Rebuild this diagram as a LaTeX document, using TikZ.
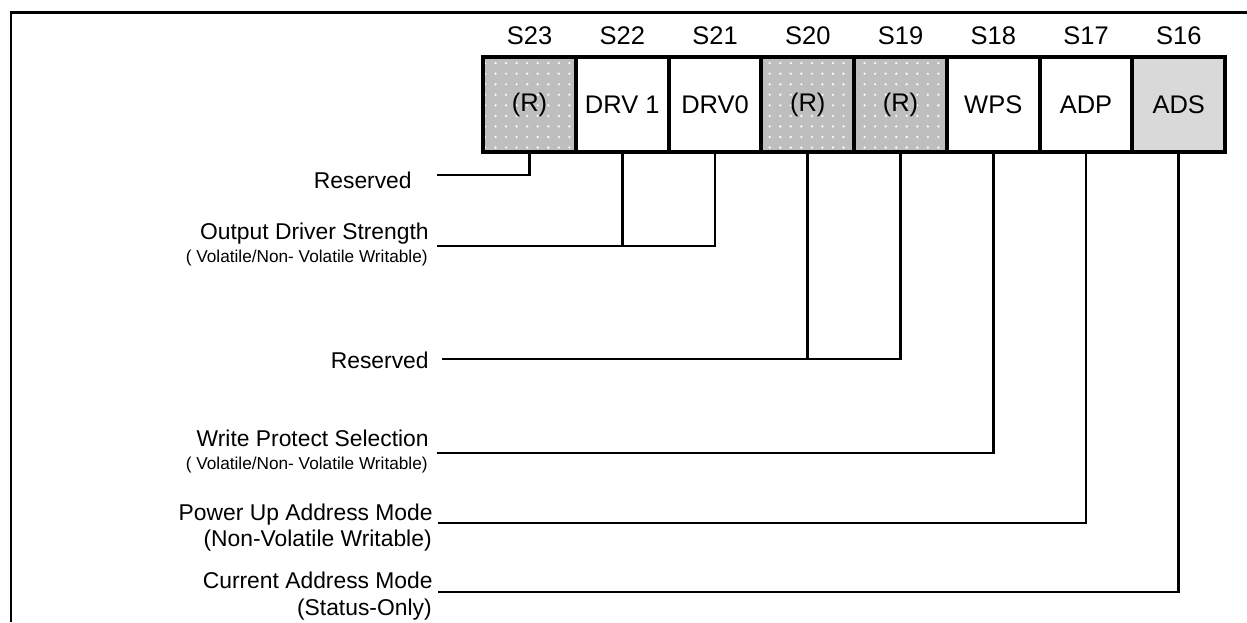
\documentclass[tikz,border=0pt]{standalone}
\usepackage{fontspec}
\setmainfont{Liberation Sans}
\usepackage{xcolor}
\usepackage{tikz}
\usetikzlibrary{positioning,patterns.meta}
\definecolor{rsvgray}{HTML}{BEBEBE}
\definecolor{adsgray}{HTML}{D9D9D9}

\begin{document}
\begin{tikzpicture}[
  cell/.style={rectangle, draw, line width=2.3pt, outer sep=0pt, inner sep=0pt,
               minimum width=1.855cm, minimum height=1.9cm,
               font=\fontsize{14.5}{17}\selectfont},
  rsv/.style={cell, preaction={fill=rsvgray},
              pattern={Dots[distance=6pt, radius=0.75pt]},
              pattern color=white!90!rsvgray},
  hdr/.style={inner sep=0pt, font=\fontsize{14.5}{17}\selectfont},
  lbl/.style={inner sep=0pt, anchor=base east, font=\fontsize{13}{15}\selectfont},
  sub/.style={inner sep=0pt, anchor=base east, font=\fontsize{9.8}{12}\selectfont},
  wire/.style={line width=1.5pt},
  frame/.style={line width=1.2pt}
]
\useasboundingbox (0,0) rectangle (24.94,-12.44);
\draw[frame] (0.22,-12.44) |- (24.94,-0.25);

\node[rsv]                             (s23) at (10.59,-2.09) {(R)};
\node[cell, right=0cm of s23]           (s22) {DRV 1};
\node[cell, right=0cm of s22]           (s21) {DRV0};
\node[rsv, right=0cm of s21]            (s20) {(R)};
\node[rsv, right=0cm of s20]            (s19) {(R)};
\node[cell, right=0cm of s19]           (s18) {WPS};
\node[cell, right=0cm of s18]           (s17) {ADP};
\node[cell, fill=adsgray, right=0cm of s17] (s16) {\raisebox{-2pt}{ADS}};

\node[hdr, above=0.24cm of s23] (h23) {S23};
\node[hdr, above=0.24cm of s22] (h22) {S22};
\node[hdr, above=0.24cm of s21] (h21) {S21};
\node[hdr, above=0.24cm of s20] (h20) {S20};
\node[hdr, above=0.24cm of s19] (h19) {S19};
\node[hdr, above=0.24cm of s18] (h18) {S18};
\node[hdr, above=0.24cm of s17] (h17) {S17};
\node[hdr, above=0.24cm of s16] (h16) {S16};

\node[lbl] (rsvA)   at (8.24,-3.76)  {Reserved};
\node[lbl] (ods)    at (8.58,-4.78)  {Output Driver Strength};
\node[sub] (odsv)   at (8.56,-5.24)  {( Volatile/Non- Volatile Writable)};
\node[lbl] (rsvB)   at (8.58,-7.36)  {Reserved};
\node[lbl] (wpsel)  at (8.58,-8.92)  {Write Protect Selection};
\node[sub] (wpselv) at (8.56,-9.38)  {( Volatile/Non- Volatile Writable)};
\node[lbl] (puam)   at (8.66,-10.40) {Power Up Address Mode};
\node[lbl] (puamv)  at (8.64,-10.92) {(Non-Volatile Writable)};
\node[lbl] (cam)    at (8.66,-11.76) {Current Address Mode};
\node[lbl] (camv)   at (8.64,-12.30) {(Status-Only)};

\coordinate (rsvAx)  at (8.74,-3.50);
\coordinate (odsx)   at (8.74,-4.92);
\coordinate (rsvBx)  at (8.84,-7.18);
\coordinate (wpselx) at (8.74,-9.06);
\coordinate (puamx)  at (8.76,-10.46);
\coordinate (camx)   at (8.76,-11.84);

\draw[wire] (s23.south) |- (rsvAx);
\draw[wire] (odsx) -| (s21.south);
\draw[wire] (s22.south) -- (s22.south |- odsx);
\draw[wire] (rsvBx) -| (s19.south);
\draw[wire] (s20.south) -- (s20.south |- rsvBx);
\draw[wire] (wpselx) -| (s18.south);
\draw[wire] (puamx) -| (s17.south);
\draw[wire] (camx) -| (s16.south);
\end{tikzpicture}
\end{document}
